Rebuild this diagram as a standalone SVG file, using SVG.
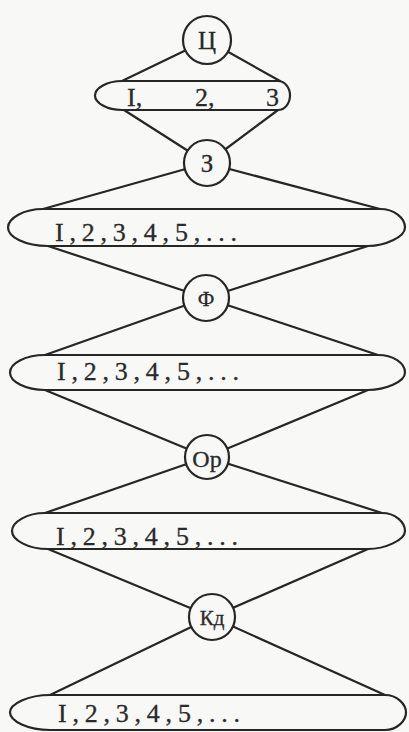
<svg xmlns="http://www.w3.org/2000/svg" width="409" height="732" viewBox="0 0 409 732">
<style>
.ln{stroke:#262626;stroke-width:2.2;fill:none;stroke-linecap:round}
.nd{stroke:#262626;stroke-width:2.2;fill:#f8f8f6}
.t{font-family:"Liberation Serif","DejaVu Serif",serif;fill:#2a2a2a;stroke:#2a2a2a;stroke-width:0.3}
.lbl{font-size:26px}
.cl{text-anchor:middle}
</style>
<rect width="409" height="732" fill="#f8f8f6"/>
<g id="connectors">
<line class="ln" x1="207" y1="40" x2="122" y2="81"/>
<line class="ln" x1="207" y1="40" x2="280" y2="81"/>
<line class="ln" x1="124" y1="110" x2="207" y2="163"/>
<line class="ln" x1="278" y1="110" x2="207" y2="163"/>
<line class="ln" x1="207" y1="163" x2="43" y2="209"/>
<line class="ln" x1="207" y1="163" x2="380" y2="209"/>
<line class="ln" x1="48" y1="246" x2="206" y2="298"/>
<line class="ln" x1="368" y1="246" x2="206" y2="298"/>
<line class="ln" x1="206" y1="298" x2="45" y2="355"/>
<line class="ln" x1="206" y1="298" x2="378" y2="355"/>
<line class="ln" x1="45" y1="390" x2="207" y2="457"/>
<line class="ln" x1="368" y1="390" x2="207" y2="457"/>
<line class="ln" x1="207" y1="457" x2="45" y2="513"/>
<line class="ln" x1="207" y1="457" x2="382" y2="513"/>
<line class="ln" x1="48" y1="549" x2="212" y2="617"/>
<line class="ln" x1="368" y1="549" x2="212" y2="617"/>
<line class="ln" x1="212" y1="617" x2="50" y2="695"/>
<line class="ln" x1="212" y1="617" x2="385" y2="695"/>
</g>
<g id="n-ts"><circle class="nd" cx="207" cy="40" r="24"/><text class="t cl" x="207" y="49" font-size="25">Ц</text></g>
<g id="e1"><path class="nd" d="M122,81 L278,81 C285,81 290,88 290,95.5 C290,103 285,110 278,110 L122,110 C107,110 95,103 95,95.5 C95,88 107,81 122,81 Z"/>
<text class="t lbl" y="106"><tspan x="127">I,</tspan><tspan x="195">2,</tspan><tspan x="266">3</tspan></text></g>
<g id="n-z"><circle class="nd" cx="207" cy="163" r="23"/><text class="t cl" x="207" y="172" font-size="25">З</text></g>
<g id="e2"><path class="nd" d="M43,209 L380,209 C394,209 405,218 405,227.5 C405,237 385,246 368,246 L48,246 C25,246 8,237 8,227.5 C8,218 24,209 43,209 Z"/>
<text class="t lbl" x="55" y="241" textLength="182" lengthAdjust="spacing">I,2,3,4,5,...</text></g>
<g id="n-f"><circle class="nd" cx="206" cy="298" r="23"/><text class="t cl" x="206" y="306" font-size="21">Ф</text></g>
<g id="e3"><path class="nd" d="M45,355 L378,355 C393,355 405,363 405,372.5 C405,382 385,390 368,390 L45,390 C26,390 10,382 10,372.5 C10,363 26,355 45,355 Z"/>
<text class="t lbl" x="57" y="380" textLength="182" lengthAdjust="spacing">I,2,3,4,5,...</text></g>
<g id="n-op"><circle class="nd" cx="207" cy="457" r="22"/><text class="t cl" x="207" y="467" font-size="24">Ор</text></g>
<g id="e4"><path class="nd" d="M45,513 L382,513 C395,513 405,522 405,531 C405,540 385,549 368,549 L48,549 C28,549 12,540 12,531 C12,522 27,513 45,513 Z"/>
<text class="t lbl" x="56" y="545" textLength="182" lengthAdjust="spacing">I,2,3,4,5,...</text></g>
<g id="n-kd"><circle class="nd" cx="212" cy="617" r="23"/><text class="t cl" x="212" y="625" font-size="21">Кд</text></g>
<g id="e5"><path class="nd" d="M50,695 L385,695 C397,695 406,704 406,712.5 C406,721 397,730 385,730 L50,730 C28,730 10,721 10,712.5 C10,704 28,695 50,695 Z"/>
<text class="t lbl" x="58" y="722" textLength="182" lengthAdjust="spacing">I,2,3,4,5,...</text></g>
</svg>
